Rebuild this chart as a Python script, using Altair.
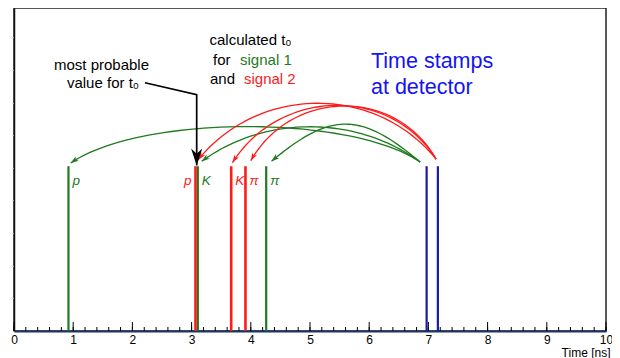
import altair as alt
import pandas as pd

# ---------------- data ----------------
# vertical lines (time in ns)
green_t = [0.92, 3.105, 4.26]
green_lbl = ["p", "K", "π"]
red_t = [3.066, 3.669, 3.91]
red_lbl = ["p", "K", "π"]
blue_t = [6.97, 7.16]
line_top = 0.505

# curved arrows (start -> end), peak height h above the ends, shape f
g_x0 = [6.86, 6.86, 6.86]
g_y0 = [0.518, 0.518, 0.518]
g_x1 = [0.958, 3.17, 4.35]
g_y1 = [0.515, 0.52, 0.52]
g_h = [0.11, 0.107, 0.115]
g_f = [0.2, 0.29, 0.4]

r_x0 = [7.13, 7.13, 7.13]
r_y0 = [0.527, 0.527, 0.527]
r_x1 = [3.11, 3.69, 4.0]
r_y1 = [0.525, 0.516, 0.522]
r_h = [0.172, 0.17, 0.165]
r_f = [0.256, 0.23, 0.22]

# pointer "most probable value"
ptr_x = [2.213, 3.086, 3.086]
ptr_y = [0.761, 0.724, 0.507]

x_tick_labels = list(range(0, 11))

# ---------------- style ----------------
W, H = 592, 323
XMAX, YMAX = 10, 0.99
SX, SY = W / XMAX, H / YMAX
GREEN = "#1e7a1e"
RED = "#ff1a1a"
NAVY = "#1a1aa0"
FONT = "Liberation Sans"

XSCALE = alt.Scale(domain=[0, XMAX], nice=False, zero=False)
YSCALE = alt.Scale(domain=[0, YMAX], nice=False, zero=False)
XAXIS = alt.Axis(values=x_tick_labels, labelFontSize=12, labelFont=FONT, labelColor="black",
                 domainColor="#1b3566", domainWidth=2, ticks=False, labelPadding=3,
                 grid=False, labelFlush=False, titleFontSize=12, titleFontWeight="normal",
                 titleFont=FONT, titleColor="black", titleAnchor="end", titleAlign="right",
                 titleX=596, titleY=25, titleBaseline="alphabetic")
YAXIS = alt.Axis(labels=False, title=None, domainColor="#111", domainWidth=1.5,
                 tickColor="#cfcfcf", tickSize=2, tickCount=10, grid=False)
XT = "Time [ns]"


def X(f):
    return alt.X(f, type="quantitative", scale=XSCALE, axis=XAXIS, title=XT)


def Y(f):
    return alt.Y(f, type="quantitative", scale=YSCALE, axis=YAXIS)


def XD(v):
    return alt.XDatum(v, type="quantitative", scale=XSCALE, axis=XAXIS, title=XT)


def YD(v):
    return alt.YDatum(v, type="quantitative", scale=YSCALE, axis=YAXIS)


one = pd.DataFrame({"a": [0]})

layers = []

# inward ticks on the time axis
layers.append(alt.Chart(alt.sequence(0, 10.01, 0.2, as_="v")).mark_rule(color="black", strokeWidth=1)
              .encode(x=X("v"), y=alt.value(H), y2=alt.value(H - 4)))
layers.append(alt.Chart(alt.sequence(0, 10.5, 1, as_="v")).mark_rule(color="black", strokeWidth=1)
              .encode(x=X("v"), y=alt.value(H), y2=alt.value(H - 9)))

# vertical lines
for vals, col, sw in [(green_t, GREEN, 2.2), (red_t, RED, 2.6), (blue_t, NAVY, 2.2)]:
    df = pd.DataFrame({"t": vals})
    layers.append(alt.Chart(df).mark_rule(color=col, strokeWidth=sw)
                  .encode(x=X("t"), y=YD(0), y2=alt.Y2Datum(line_top)))

# curved arrows
ARROW = "M0,0 L-0.34,1 L0,0.72 L0.34,1 Z"


def arcs(x0, y0, x1, y1, h, f, col):
    df = pd.DataFrame({"id": range(len(x0)), "x0": x0, "y0": y0, "x1": x1, "y1": y1, "h": h, "f": f})
    base = alt.Chart(df).transform_calculate(
        c1x="datum.x0 + datum.f*(datum.x1-datum.x0)",
        c1y="datum.y0 + 4/3*datum.h",
        c2x="datum.x1 - datum.f*(datum.x1-datum.x0)",
        c2y="datum.y1 + 4/3*datum.h",
    )
    curve = base.transform_calculate(t="sequence(0, 1.0001, 0.02)").transform_flatten(["t"]).transform_calculate(
        bx="pow(1-datum.t,3)*datum.x0 + 3*pow(1-datum.t,2)*datum.t*datum.c1x + 3*(1-datum.t)*pow(datum.t,2)*datum.c2x + pow(datum.t,3)*datum.x1",
        by="pow(1-datum.t,3)*datum.y0 + 3*pow(1-datum.t,2)*datum.t*datum.c1y + 3*(1-datum.t)*pow(datum.t,2)*datum.c2y + pow(datum.t,3)*datum.y1",
    ).mark_line(color=col, strokeWidth=1.3).encode(
        x=X("bx"), y=Y("by"), detail="id:N", order="t:Q")
    head = base.transform_calculate(
        vx=f"(datum.x1-datum.c2x)*{SX}",
        vy=f"-(datum.y1-datum.c2y)*{SY}",
    ).transform_calculate(
        ang="(atan2(datum.vx, -datum.vy)*180/PI + 360) % 360"
    ).mark_point(shape=ARROW, filled=True, size=256, color=col, opacity=1, strokeWidth=0).encode(
        x=X("x1"), y=Y("y1"), angle=alt.Angle("ang:Q", scale=None))
    return [curve, head]


layers += arcs(g_x0, g_y0, g_x1, g_y1, g_h, g_f, GREEN)
layers += arcs(r_x0, r_y0, r_x1, r_y1, r_h, r_f, RED)

# black pointer
pdf = pd.DataFrame({"x": ptr_x, "y": ptr_y, "o": range(len(ptr_x))})
layers.append(alt.Chart(pdf).mark_line(color="black", strokeWidth=1.7)
              .encode(x=X("x"), y=Y("y"), order="o:Q"))
layers.append(alt.Chart(one).mark_point(shape="M0,0 L-0.33,1 L0,0.7 L0.33,1 Z", filled=True,
                                        size=1156, color="black", opacity=1, strokeWidth=0, angle=180)
              .encode(x=XD(ptr_x[-1]), y=YD(ptr_y[-1])))

# particle labels
lab_y = 0.446
gdf = pd.DataFrame({"t": green_t, "l": green_lbl})
layers.append(alt.Chart(gdf).mark_text(align="left", dx=4, baseline="alphabetic", font=FONT,
                                       fontStyle="italic", fontSize=13.5, color=GREEN)
              .encode(x=X("t"), y=YD(lab_y), text="l:N"))
rdf = pd.DataFrame({"t": red_t, "l": red_lbl})
layers.append(alt.Chart(rdf).transform_filter("datum.l == 'p'")
              .mark_text(align="right", dx=-4, baseline="alphabetic", font=FONT,
                         fontStyle="italic", fontSize=13.5, color=RED)
              .encode(x=X("t"), y=YD(lab_y), text="l:N"))
layers.append(alt.Chart(rdf).transform_filter("datum.l != 'p'")
              .mark_text(align="left", dx=4, baseline="alphabetic", font=FONT,
                         fontStyle="italic", fontSize=13.5, color=RED)
              .encode(x=X("t"), y=YD(lab_y), text="l:N"))


# annotations
def txt(s, x, y, col="black", size=15, align="center"):
    return alt.Chart(one).mark_text(text=s, align=align, baseline="middle", font=FONT,
                                    fontSize=size, color=col).encode(x=XD(x), y=YD(y))


layers += [
    txt("most probable", 1.478, 0.816),
    txt("value for t₀", 1.503, 0.761),
    txt("calculated t₀", 3.995, 0.893),
    txt("for", 3.361, 0.831, align="left"),
    txt("signal 1", 3.818, 0.831, GREEN, align="left"),
    txt("and", 3.311, 0.773, align="left"),
    txt("signal 2", 3.885, 0.773, RED, align="left"),
    txt("Time stamps", 6.03, 0.825, "#1414f0", 21.5, "left"),
    txt("at detector", 6.03, 0.745, "#1414f0", 21.5, "left"),
]

chart = alt.layer(*layers).properties(
    width=W, height=H,
    autosize=alt.AutoSizeParams(type="none"),
    padding={"left": 6, "top": 0, "right": 6, "bottom": 27},
).configure_view(stroke="#222", strokeWidth=1.5)

chart.save("out.html", embed_options={"renderer": "svg", "actions": False})
